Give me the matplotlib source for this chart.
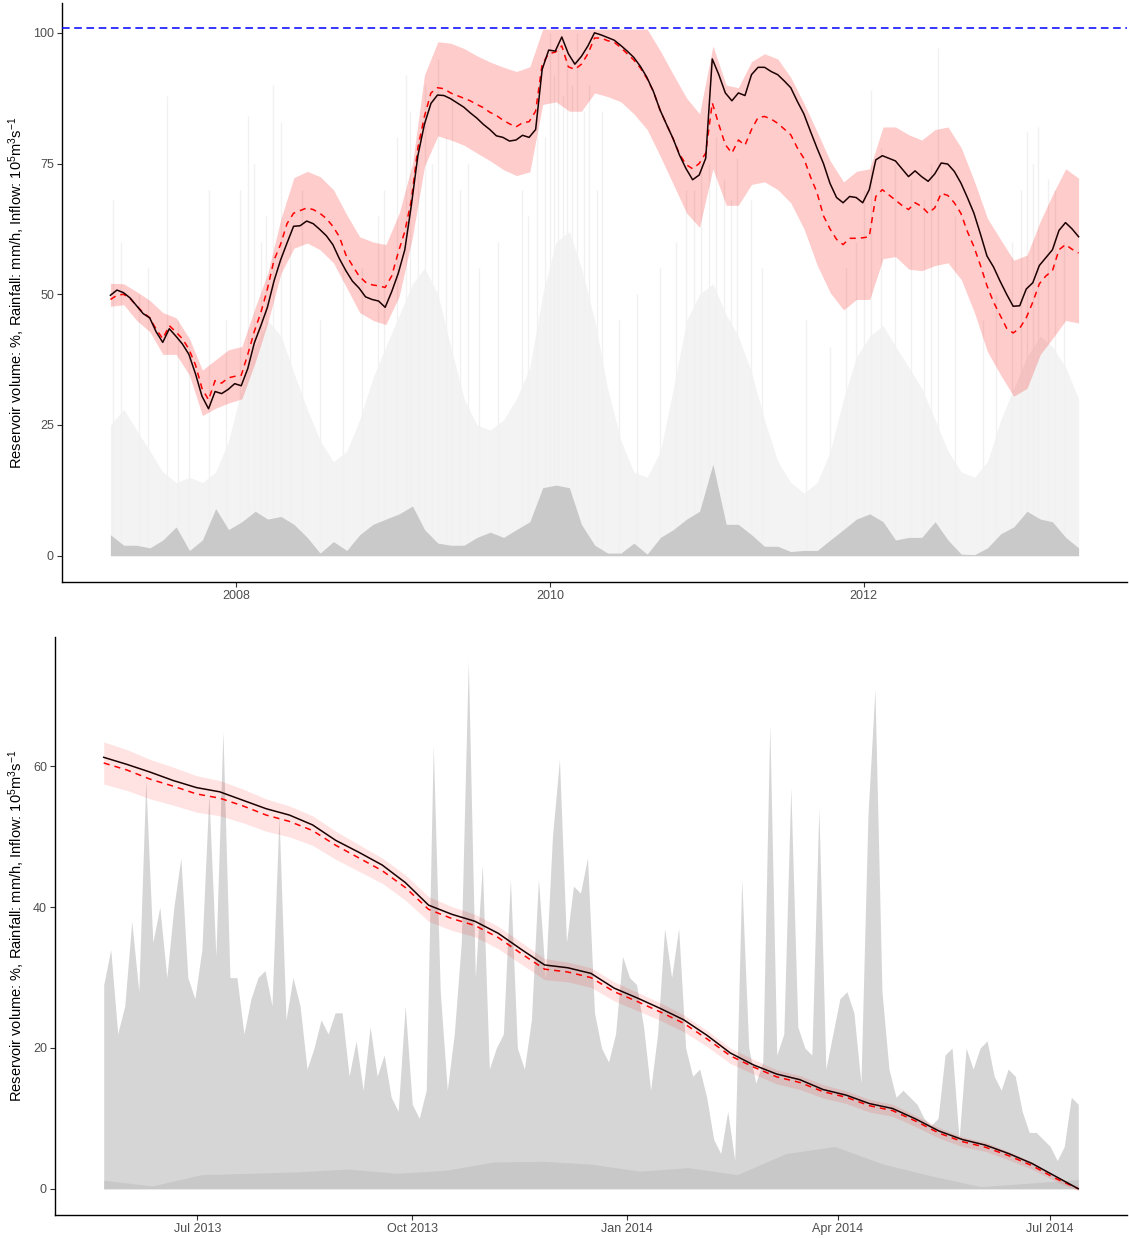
import matplotlib
matplotlib.use('Agg')
import matplotlib.pyplot as plt
import matplotlib.dates as mdates
import numpy as np
import pandas as pd

plt.rcParams['font.family'] = ['Liberation Sans', 'DejaVu Sans']
plt.rcParams['mathtext.fontset'] = 'custom'
plt.rcParams['mathtext.rm'] = 'Liberation Sans'
plt.rcParams['mathtext.it'] = 'Liberation Sans:italic'
plt.rcParams['mathtext.bf'] = 'Liberation Sans:bold'

# ---------------- top panel: 2007-2013 ----------------
# half-monthly observed / predicted volume
top_line_dates = pd.date_range('2007-03-15', '2013-05-15', periods=149)

top_obs = [49.8, 50.8, 50.3, 49.3, 47.8, 46.3, 45.5, 42.8, 40.8, 43.4,
           42.0, 40.5, 38.5, 34.8, 30.5, 28.1, 31.4, 31.0, 31.8, 32.9,
           32.5, 35.8, 40.7, 44.0, 47.5, 52.5, 56.5, 59.8, 63.0, 63.1,
           64.0, 63.5, 62.4, 61.2, 59.5, 56.8, 54.5, 52.5, 51.2, 49.5,
           49.0, 48.7, 47.5, 50.5, 54.0, 58.5, 67.0, 76.5, 82.5, 86.5,
           88.1, 88.0, 87.4, 86.6, 85.8, 84.7, 83.7, 82.5, 81.5, 80.3,
           80.0, 79.3, 79.5, 80.4, 80.0, 81.5, 93.0, 96.7, 96.5, 99.2,
           96.0, 94.0, 95.5, 97.5, 100.0, 99.6, 99.1, 98.6, 97.6, 96.5,
           95.3, 93.6, 91.5, 88.8, 85.3, 82.5, 79.8, 76.6, 74.0, 71.9,
           72.8, 76.0, 95.0, 92.0, 88.5, 87.0, 88.5, 88.0, 92.0, 93.4,
           93.4, 92.6, 92.0, 90.8, 89.5, 86.9, 84.5, 81.2, 78.0, 75.0,
           71.2, 68.5, 67.5, 68.7, 68.5, 67.5, 70.0, 75.7, 76.5, 76.0,
           75.5, 74.0, 72.5, 73.6, 72.5, 71.6, 73.0, 75.1, 74.9, 73.5,
           71.3, 68.5, 65.5, 61.5, 57.3, 55.2, 52.5, 50.0, 47.7, 47.8,
           51.0, 52.2, 55.5, 57.0, 58.5, 62.2, 63.7, 62.5, 61.0]

top_pred = [49.0, 49.8, 50.0, 49.2, 47.8, 46.5, 45.5, 43.3, 41.5, 44.0,
            42.8, 41.5, 39.5, 36.5, 32.0, 29.8, 33.5, 33.0, 34.0, 34.3,
            34.5, 38.5, 42.9, 46.5, 51.0, 56.5, 59.5, 63.5, 65.5, 66.0,
            66.5, 66.2, 65.5, 64.5, 63.0, 61.0, 57.5, 55.5, 53.5, 52.3,
            51.8, 51.6, 51.3, 53.5, 58.0, 62.0, 68.0, 78.0, 84.0, 88.5,
            89.5, 89.3, 88.5, 88.0, 87.5, 87.0, 86.3, 85.7, 84.8, 84.2,
            83.3, 82.6, 82.0, 82.8, 83.0, 85.0, 94.0, 96.0, 96.3, 97.5,
            93.5, 93.0, 94.0, 96.0, 99.0, 99.0, 98.5, 98.2, 97.2, 96.0,
            94.8, 93.3, 91.3, 88.8, 85.3, 82.5, 79.8, 76.8, 74.8, 74.0,
            75.0, 77.0, 86.6, 82.5, 78.6, 77.0, 79.5, 78.5, 81.5, 83.8,
            84.0, 83.5, 82.7, 81.6, 80.5, 78.0, 76.0, 72.5, 69.5, 65.0,
            62.5, 60.5, 59.5, 60.7, 60.7, 60.8, 61.0, 68.7, 70.0, 69.0,
            68.0, 67.0, 66.2, 67.5, 66.8, 65.5, 66.5, 69.3, 68.9, 67.5,
            65.5, 62.0, 59.1, 55.5, 51.6, 48.5, 46.0, 43.5, 42.6, 43.5,
            45.5, 48.5, 52.0, 53.5, 54.5, 58.5, 59.5, 58.6, 57.9]

# monthly prediction interval, inflow and rainfall
top_dates = pd.date_range('2007-03-01', periods=75, freq='MS') + pd.Timedelta(days=14)

top_upper = [52.1, 52.0, 50.5, 48.8, 46.5, 45.5, 41.5, 35.5, 37.5, 39.4,
             40.0, 47.5, 54.0, 64.5, 72.3, 73.5, 72.5, 70.0, 65.2, 61.0,
             60.0, 59.5, 65.5, 75.0, 92.0, 98.3, 98.0, 97.0, 95.6, 94.4,
             93.4, 92.6, 93.5, 100.7, 100.7, 100.7, 100.7, 100.7, 100.7, 100.7,
             100.7, 100.7, 96.5, 92.0, 87.5, 84.5, 97.5, 90.0, 89.5, 94.5,
             96.0, 95.0, 91.5, 86.5, 81.0, 75.5, 71.5, 73.5, 74.0, 82.0,
             82.0, 80.5, 79.5, 81.5, 82.0, 78.0, 71.5, 64.5, 60.4, 56.5,
             57.5, 64.0, 69.0, 74.0, 72.2]

top_lower = [47.7, 48.0, 45.0, 42.8, 38.5, 38.5, 34.5, 26.8, 28.2, 29.2,
             30.0, 37.0, 44.5, 54.0, 58.8, 59.8, 58.5, 56.0, 51.2, 46.5,
             45.0, 44.2, 49.6, 61.0, 74.5, 80.3, 79.5, 78.5, 77.0, 75.5,
             73.8, 72.7, 73.4, 86.3, 86.8, 85.0, 85.0, 88.5, 87.8, 86.8,
             84.5, 81.5, 76.3, 71.0, 65.5, 62.8, 74.0, 67.0, 67.0, 71.0,
             71.5, 70.0, 67.5, 62.5, 55.5, 50.3, 47.0, 49.0, 49.0, 56.8,
             57.2, 54.8, 54.5, 55.5, 56.0, 52.8, 46.4, 39.0, 34.5, 30.5,
             32.0, 38.5, 41.5, 45.0, 44.5]

top_inflow = [4.0, 2.0, 2.0, 1.5, 3.0, 5.5, 1.0, 3.0, 9.0, 5.0,
              6.5, 8.5, 7.0, 7.5, 6.0, 3.5, 0.5, 2.7, 1.0, 4.0,
              6.0, 7.0, 8.0, 9.5, 5.0, 2.4, 2.0, 2.0, 3.5, 4.5,
              3.5, 5.0, 6.5, 13.0, 13.5, 13.0, 6.0, 2.0, 0.5, 0.5,
              2.4, 0.3, 3.5, 5.0, 7.0, 8.5, 17.5, 6.0, 6.0, 4.0,
              1.8, 1.8, 0.8, 1.0, 1.0, 3.0, 5.0, 7.0, 8.0, 6.5,
              3.0, 3.5, 3.5, 6.5, 3.0, 0.3, 0.2, 1.5, 4.2, 5.5,
              8.5, 7.0, 6.5, 3.5, 1.5]

top_rain = [25, 28, 24, 20, 16, 14, 15, 14, 16, 22,
            32, 40, 45, 42, 35, 28, 22, 18, 20, 26,
            34, 40, 46, 52, 55, 50, 40, 30, 25, 24,
            26, 30, 36, 50, 60, 62, 55, 45, 32, 22,
            16, 15, 20, 32, 45, 50, 52, 46, 42, 35,
            26, 18, 14, 12, 14, 20, 30, 38, 42, 44,
            40, 36, 32, 26, 20, 16, 15, 18, 26, 32,
            38, 42, 40, 36, 30]

spike_dates = pd.to_datetime([
    '2007-03-21', '2007-04-08', '2007-05-21', '2007-06-10', '2007-07-24',
    '2007-08-20', '2007-09-15', '2007-10-30', '2007-12-09', '2008-01-10',
    '2008-01-30', '2008-02-12', '2008-02-28', '2008-03-10', '2008-03-28',
    '2008-04-14', '2008-05-05', '2008-06-02', '2008-07-15', '2008-09-07',
    '2008-10-20', '2008-11-26', '2008-12-10', '2009-01-10', '2009-01-30',
    '2009-02-10', '2009-02-28', '2009-03-15', '2009-04-01', '2009-04-15',
    '2009-05-05', '2009-05-19', '2009-06-05', '2009-06-24', '2009-07-20',
    '2009-09-02', '2009-10-28', '2009-11-10', '2009-12-02', '2009-12-20',
    '2010-01-01', '2010-01-10', '2010-01-19', '2010-02-01', '2010-02-10',
    '2010-02-22', '2010-03-04', '2010-03-20', '2010-04-02', '2010-04-20',
    '2010-05-01', '2010-06-10', '2010-07-22', '2010-09-15', '2010-10-20',
    '2010-11-14', '2010-12-01', '2010-12-19', '2011-01-05', '2011-01-23',
    '2011-02-10', '2011-02-25', '2011-03-11', '2011-04-13', '2011-05-10',
    '2011-08-19', '2011-10-15', '2011-11-20', '2011-12-13', '2012-01-01',
    '2012-01-17', '2012-02-10', '2012-03-14', '2012-04-20', '2012-05-20',
    '2012-06-05', '2012-06-23', '2012-07-31', '2012-10-05', '2012-11-03',
    '2012-12-10', '2013-01-01', '2013-01-15', '2013-01-28', '2013-02-10',
    '2013-03-05', '2013-03-22', '2013-04-10'])
spike_heights = [68, 60, 50, 55, 88, 45, 40, 70, 45, 70,
                 84, 75, 60, 65, 90, 83, 60, 70, 45, 55,
                 55, 65, 70, 80, 92, 85, 80, 90, 75, 95,
                 80, 88, 70, 75, 55, 60, 70, 65, 85, 80,
                 100, 92, 98, 88, 95, 90, 100, 85, 90, 70,
                 85, 45, 50, 55, 60, 70, 70, 75, 75, 80,
                 72, 68, 76, 68, 55, 45, 40, 55, 60, 70,
                 89, 78, 75, 72, 68, 75, 97, 65, 45, 50,
                 60, 70, 81, 75, 82, 72, 70, 60]

capacity = 101.0

# ---------------- bottom panel: 2013-2014 ----------------
bot_line_dates = pd.date_range('2013-05-22', '2014-07-13', periods=43)
bot_obs = [61.3, 60.3, 59.2, 58.0, 57.0, 56.4, 55.2, 54.0, 53.1, 51.7,
           49.5, 47.8, 46.0, 43.5, 40.3, 39.0, 38.0, 36.3, 34.0, 31.8,
           31.4, 30.6, 28.5, 27.1, 25.6, 24.0, 21.8, 19.3, 17.6, 16.3,
           15.5, 14.1, 13.3, 12.1, 11.4, 9.9, 8.2, 7.0, 6.2, 5.0,
           3.6, 1.8, 0.0]
bot_pred = [60.5, 59.5, 58.2, 57.2, 56.1, 55.5, 54.4, 53.1, 52.2, 50.9,
            48.8, 47.0, 45.2, 42.8, 39.7, 38.4, 37.4, 35.7, 33.4, 31.2,
            30.8, 30.0, 28.0, 26.6, 25.1, 23.5, 21.3, 18.9, 17.3, 15.9,
            15.1, 13.8, 13.0, 11.8, 11.1, 9.6, 7.9, 6.7, 5.9, 4.7,
            3.3, 1.5, 0.0]
bot_upper = [63.5, 62.4, 61.0, 59.9, 58.7, 58.0, 56.8, 55.4, 54.4, 53.0,
             50.8, 48.9, 47.0, 44.6, 41.5, 40.1, 39.0, 37.3, 35.0, 32.7,
             32.2, 31.4, 29.4, 27.9, 26.4, 24.7, 22.5, 20.0, 18.4, 16.9,
             16.1, 14.8, 13.9, 12.7, 12.0, 10.4, 8.7, 7.4, 6.6, 5.3,
             3.8, 1.9, 0.3]
bot_lower = [57.5, 56.6, 55.4, 54.5, 53.5, 53.0, 52.0, 50.8, 50.0, 48.8,
             46.8, 45.1, 43.4, 41.0, 38.0, 36.7, 35.8, 34.1, 31.9, 29.7,
             29.4, 28.6, 26.7, 25.3, 23.9, 22.3, 20.2, 17.8, 16.3, 14.9,
             14.1, 12.9, 12.1, 10.9, 10.3, 8.8, 7.2, 6.0, 5.3, 4.1,
             2.8, 1.1, -0.3]

bot_rain_dates = pd.date_range('2013-05-22', periods=140, freq='3D')
bot_rain = [29, 34, 22, 26, 38, 28, 58, 35, 40, 30,
            40, 47, 30, 27, 34, 56, 33, 65, 30, 30,
            22, 27, 30, 31, 26, 53, 24, 30, 26, 17,
            20, 24, 22, 25, 25, 16, 21, 14, 23, 16,
            19, 13, 11, 26, 12, 10, 14, 63, 28, 14,
            22, 35, 75, 30, 46, 17, 20, 22, 44, 20,
            17, 24, 44, 30, 50, 61, 35, 43, 42, 47,
            25, 20, 18, 22, 33, 30, 29, 23, 14, 22,
            37, 30, 37, 20, 16, 17, 13, 7, 5, 11,
            4, 44, 20, 15, 18, 66, 19, 22, 57, 23,
            20, 19, 54, 17, 22, 27, 28, 25, 15, 53,
            71, 28, 17, 13, 14, 13, 12, 10, 9, 10,
            19, 20, 7, 20, 17, 20, 21, 16, 14, 17,
            16, 11, 8, 8, 7, 6, 4, 6, 13, 12]

bot_inflow_dates = pd.date_range('2013-05-22', '2014-07-13', periods=21)
bot_inflow = [1.2, 0.4, 2.0, 2.2, 2.4, 2.8, 2.2, 2.6, 3.8, 3.9,
              3.5, 2.5, 3.0, 2.0, 5.0, 6.0, 3.5, 1.8, 0.3, 0.8, 1.3]

ylabel = r'Reservoir volume: %, Rainfall: mm/h, Inflow: $10^5\mathrm{m}^3\mathrm{s}^{-1}$'


def style(ax):
    for s in ['top', 'right']:
        ax.spines[s].set_visible(False)
    for s in ['left', 'bottom']:
        ax.spines[s].set_linewidth(1.0)
        ax.spines[s].set_color('black')
    ax.tick_params(axis='both', length=3.8, width=0.8, color='#333333',
                   labelcolor='#4D4D4D', labelsize=9, pad=2)


def pad_dates(dates, frac=0.05):
    lo, hi = mdates.date2num(dates[0]), mdates.date2num(dates[-1])
    d = (hi - lo) * frac
    return lo - d, hi + d


fig = plt.figure(figsize=(11.29, 12.38), dpi=100)

# top
ax1 = fig.add_axes([62 / 1129, 1 - 582 / 1238, 1065 / 1129, 579 / 1238])
ax1.fill_between(top_dates, 0, top_rain, color='#F3F3F3', lw=0, zorder=1)
ax1.vlines(spike_dates, 0, spike_heights, color='#F1F1F1', lw=1.0, zorder=1)
ax1.fill_between(top_dates, 0, top_inflow, color='#C9C9C9', lw=0, zorder=2)
ax1.fill_between(top_dates, top_lower, top_upper, color='red', alpha=0.2, lw=0, zorder=3)
ax1.plot(top_line_dates, top_pred, color='red', lw=1.1, dashes=(4, 3.3), zorder=4)
ax1.plot(top_line_dates, top_obs, color='#1A0000', lw=1.1, zorder=5)
ax1.axhline(capacity, color='blue', lw=1.1, dashes=(5, 3), zorder=6)
ax1.set_xlim(*pad_dates(top_dates))
ax1.set_ylim(-5.03, 105.7)
ax1.set_yticks([0, 25, 50, 75, 100])
ax1.xaxis.set_major_locator(mdates.YearLocator(2, month=1, day=1))
ax1.xaxis.set_major_formatter(mdates.DateFormatter('%Y'))
style(ax1)
ax1.set_ylabel(ylabel, fontsize=10.5)
ax1.yaxis.set_label_coords((27 - 62) / 1065, 0.5)

# bottom
ax2 = fig.add_axes([55 / 1129, 23 / 1238, 1072 / 1129, 578 / 1238])
ax2.fill_between(bot_rain_dates, 0, bot_rain, color='#D6D6D6', lw=0, zorder=1)
ax2.fill_between(bot_inflow_dates, 0, bot_inflow, color='#C8C8C8', lw=0, zorder=2)
ax2.fill_between(bot_line_dates, bot_lower, bot_upper, color='red', alpha=0.11, lw=0, zorder=3)
ax2.plot(bot_line_dates, bot_pred, color='red', lw=1.1, dashes=(4, 3.3), zorder=4)
ax2.plot(bot_line_dates, bot_obs, color='#1A0000', lw=1.1, zorder=5)
ax2.set_xlim(*pad_dates(bot_rain_dates))
ax2.set_ylim(-3.73, 78.4)
ax2.set_yticks([0, 20, 40, 60])
ax2.xaxis.set_major_locator(mdates.MonthLocator(bymonth=[1, 4, 7, 10]))
ax2.xaxis.set_major_formatter(mdates.DateFormatter('%b %Y'))
style(ax2)
ax2.set_ylabel(ylabel, fontsize=10.5)
ax2.yaxis.set_label_coords((27 - 55) / 1072, 0.5)

fig.savefig('out.png', dpi=100)
